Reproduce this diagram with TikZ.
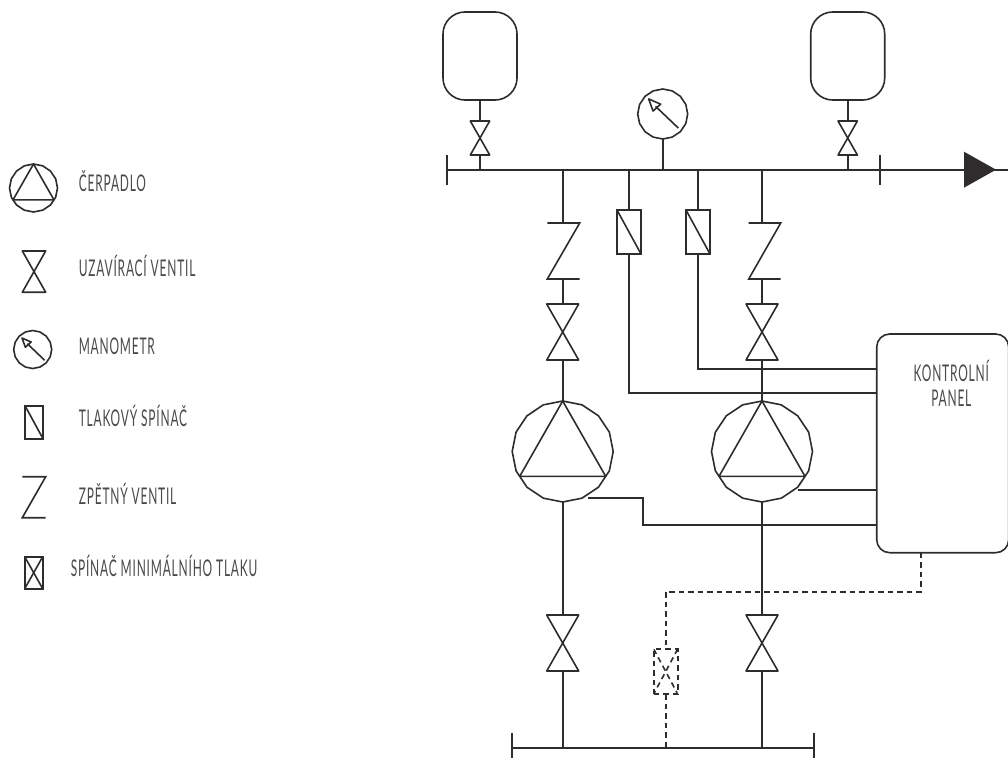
\documentclass[tikz,border=0pt]{standalone}
\usepackage{fontspec}
\setmainfont[FakeStretch=0.52,LetterSpace=3.5]{Lato}
\usetikzlibrary{shapes.geometric}
\usetikzlibrary{calc}
\definecolor{inkline}{HTML}{2E2C2C}
\definecolor{inktext}{HTML}{4A4A4A}

\begin{document}
\begin{tikzpicture}[x=1pt,y=-1pt,line width=1.6pt,draw=inkline,
	symbol/.style={inner sep=0pt,outer sep=0pt},
	valvesym/.style 2 args={symbol,minimum width=#1pt,minimum height=#2pt,
		append after command={\pgfextra{\draw[line join=round] (\tikzlastnode.north west) -- (\tikzlastnode.north east) -- (\tikzlastnode.south west) -- (\tikzlastnode.south east) -- cycle;}}},
	checksym/.style 2 args={symbol,minimum width=#1pt,minimum height=#2pt,
		append after command={\pgfextra{\draw (\tikzlastnode.north west) -- (\tikzlastnode.north east) -- (\tikzlastnode.south west) -- (\tikzlastnode.south east);}}},
	switchsym/.style 2 args={symbol,draw,minimum width=#1pt,minimum height=#2pt,
		path picture={\draw (path picture bounding box.north west) -- (path picture bounding box.south east);}},
	crosssym/.style n args={3}{symbol,draw,#3,minimum width=#1pt,minimum height=#2pt,
		path picture={\draw[#3] (path picture bounding box.north west) -- (path picture bounding box.south east);
			\draw[#3] (path picture bounding box.north east) -- (path picture bounding box.south west);}},
	pumpsym/.style={symbol,draw,regular polygon,regular polygon sides=16,shape border rotate=11.25,minimum size=#1pt,
		append after command={\pgfextra{\draw[line join=round] (\tikzlastnode.90) -- (\tikzlastnode.210) -- (\tikzlastnode.330) -- cycle;}}},
	gaugesym/.style={symbol,draw,regular polygon,regular polygon sides=16,shape border rotate=11.25,minimum size=#1pt,
		append after command={\pgfextra{
			\draw ($(\tikzlastnode.center)!.85!(\tikzlastnode.-42)$) -- ($(\tikzlastnode.center)!.42!(\tikzlastnode.133)$);
			\draw[line join=round] ($(\tikzlastnode.center)!.83!(\tikzlastnode.133)$) -- ($(\tikzlastnode.center)!.41!(\tikzlastnode.102)$) -- ($(\tikzlastnode.center)!.41!(\tikzlastnode.163)$) -- cycle;}}},
	tanksym/.style={symbol,draw,rectangle,rounded corners=22pt,minimum width=74pt,minimum height=88pt},
	legendtext/.style={inner sep=0pt,anchor=base west,text=inktext,font=\fontsize{23}{24}\selectfont},
	dashline/.style={dash pattern=on 5.5pt off 4pt}]
	\useasboundingbox (0,0) rectangle (1008,758);

	% legenda
	\node [pumpsym=48] (legpump) at (33.5,188) {};
	\node [legendtext] (legpumptext) at (78,191.7) {ČERPADLO};
	\node [valvesym={23.4}{41.3}] (legvalve) at (34,271.6) {};
	\node [legendtext] (legvalvetext) at (78,276) {UZAVÍRACÍ VENTIL};
	\node [gaugesym=38] (leggauge) at (32.7,349.5) {};
	\node [legendtext] (leggaugetext) at (78,354) {MANOMETR};
	\node [switchsym={18}{33}] (legswitch) at (34,422.2) {};
	\node [legendtext] (legswitchtext) at (78,426.7) {TLAKOVÝ SPÍNAČ};
	\node [checksym={23.4}{41}] (legcheck) at (34,497.2) {};
	\node [legendtext] (legchecktext) at (78,504) {ZPĚTNÝ VENTIL};
	\node [crosssym={18}{32}{}] (legmin) at (33.7,572.7) {};
	\node [legendtext] (legmintext) at (70,576.7) {SPÍNAČ MINIMÁLNÍHO TLAKU};

	% horni potrubi
	\coordinate (pipeL) at (447,169.7);
	\coordinate (pipeR) at (1008,169.7);
	\coordinate (tickLa) at (447,155);
	\coordinate (tickLb) at (447,185);
	\coordinate (tickRa) at (880,155);
	\coordinate (tickRb) at (880,185);
	\draw (pipeL) -- (pipeR);
	\draw (tickLa) -- (tickLb);
	\draw (tickRa) -- (tickRb);
	\node [symbol,fill=inkline,isosceles triangle,isosceles triangle stretches,minimum height=32pt,minimum width=36pt,anchor=lower side] (flowtip) at (964,169.7) {};

	% nadrze
	\node [tanksym] (tankA) at (480,56) {};
	\node [valvesym={19.4}{34}] (tankvalveA) at (480,138) {};
	\coordinate (tapA) at (480,169.7);
	\draw (tankA) -- (tankvalveA);
	\draw (tankvalveA) -- (tapA);
	\node [tanksym] (tankB) at (847.7,56) {};
	\node [valvesym={19.4}{34}] (tankvalveB) at (847.7,138) {};
	\coordinate (tapB) at (847.7,169.7);
	\draw (tankB) -- (tankvalveB);
	\draw (tankvalveB) -- (tapB);

	% manometr
	\node [gaugesym=50] (gauge) at (662.7,114) {};
	\coordinate (tapG) at (662.7,169.7);
	\draw (gauge) -- (tapG);

	% kontrolni panel
	\node [symbol,draw,rectangle,rounded corners=13pt,minimum width=132pt,minimum height=218.7pt,anchor=north west] (panel) at (876.7,334) {};
	\node [legendtext,anchor=base] (paneltextA) at (951.3,381) {KONTROLNÍ};
	\node [legendtext,anchor=base] (paneltextB) at (951.3,406.7) {PANEL};

	% vetev A
	\coordinate (tap1) at (562.7,169.7);
	\node [checksym={32.4}{56}] (check1) at (563.5,251) {};
	\node [valvesym={32}{56}] (valve1) at (562.7,332) {};
	\node [pumpsym=101] (pump1) at (562.7,451.5) {};
	\node [valvesym={32}{56}] (valve1b) at (562.7,643) {};
	\draw (tap1) -- (tap1 |- check1.north);
	\draw (tap1 |- check1.south) -- (valve1);
	\draw (valve1) -- (pump1);
	\draw (pump1) -- (valve1b);

	% vetev B
	\coordinate (tap4) at (762,169.7);
	\node [checksym={32}{56}] (check2) at (764.7,251) {};
	\node [valvesym={32}{56}] (valve2) at (762,332) {};
	\node [pumpsym=101] (pump2) at (762,451.5) {};
	\node [valvesym={32}{56}] (valve2b) at (762,643) {};
	\draw (tap4) -- (tap4 |- check2.north);
	\draw (tap4 |- check2.south) -- (valve2);
	\draw (valve2) -- (pump2);
	\draw (pump2) -- (valve2b);

	% tlakove spinace
	\coordinate (tap2) at (629,169.7);
	\coordinate (tap3) at (698,169.7);
	\coordinate (panelA) at (876.7,369);
	\coordinate (panelB) at (876.7,392.7);
	\coordinate (panelC) at (876.7,490);
	\coordinate (panelD) at (876.7,525);
	\node [switchsym={24}{44}] (switch1) at (629,232) {};
	\node [switchsym={24}{44}] (switch2) at (698,232) {};
	\draw (tap2) -- (switch1);
	\draw (tap3) -- (switch2);
	\draw (switch1) |- (panelB);
	\draw (switch2) |- (panelA);

	% signaly od cerpadel
	\coordinate (signalA) at (588,497.7);
	\coordinate (signalAb) at (642.7,497.7);
	\coordinate (signalB) at (798,490);
	\draw (signalA) -- (signalAb) |- (panelD);
	\draw (signalB) -- (panelC);

	% spodni potrubi
	\coordinate (lowL) at (512,748);
	\coordinate (lowR) at (814,748);
	\coordinate (lowLa) at (512,733);
	\coordinate (lowLb) at (512,758);
	\coordinate (lowRa) at (814,733);
	\coordinate (lowRb) at (814,758);
	\coordinate (lowA) at (562.7,748);
	\coordinate (lowB) at (762,748);
	\coordinate (lowC) at (665.7,748);
	\draw (lowL) -- (lowR);
	\draw (lowLa) -- (lowLb);
	\draw (lowRa) -- (lowRb);
	\draw (valve1b) -- (lowA);
	\draw (valve2b) -- (lowB);

	% spinac minimalniho tlaku
	\coordinate (panelE) at (920.7,552.7);
	\coordinate (dashbend) at (920.7,591.7);
	\node [crosssym={24}{45}{dashline}] (minswitch) at (665.7,671.5) {};
	\draw [dashline] (panelE) -- (dashbend) -| (minswitch);
	\draw [dashline] (minswitch) -- (lowC);
\end{tikzpicture}
\end{document}
